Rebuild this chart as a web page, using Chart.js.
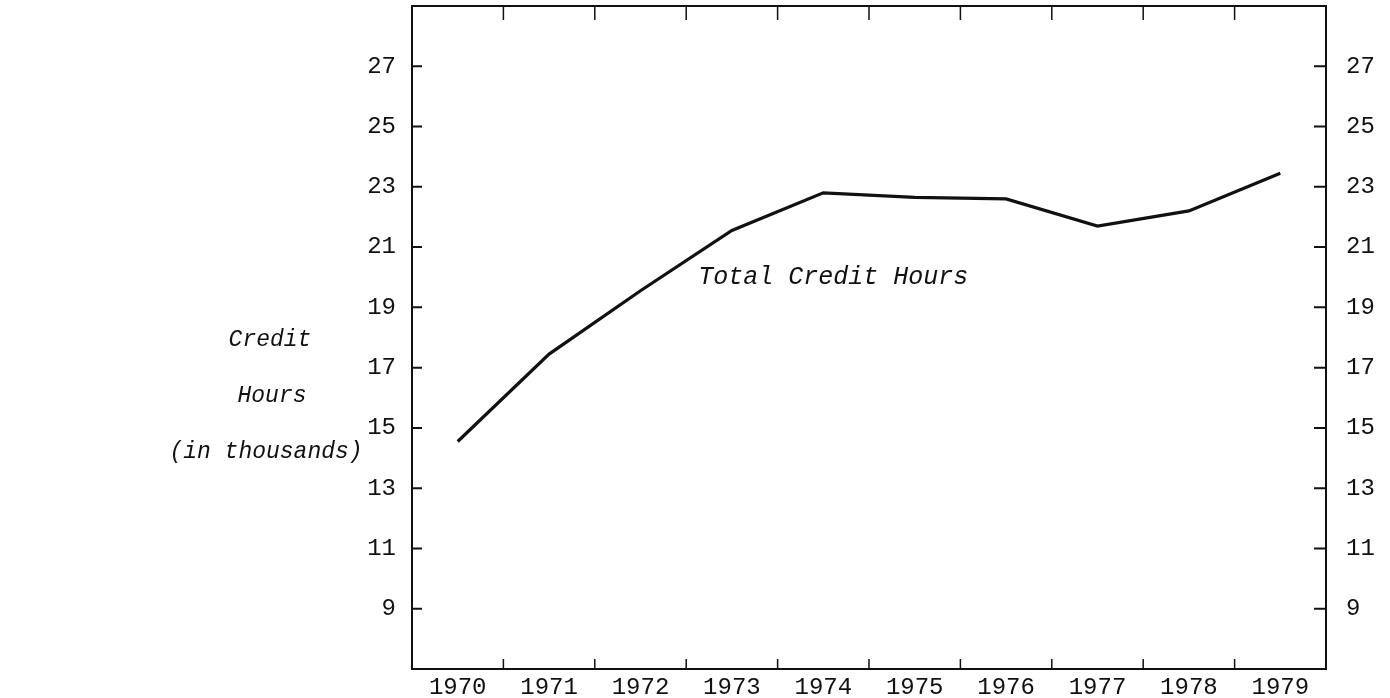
<!DOCTYPE html>
<html>
<head>
<meta charset="utf-8">
<script src="https://cdn.jsdelivr.net/npm/chart.js@4/dist/chart.umd.min.js"></script>
<style>
  html, body { margin: 0; padding: 0; background: #fff; overflow: hidden; }
  #wrap { width: 1390px; height: 698px; position: relative; }
</style>
</head>
<body>
<div id="wrap"><canvas id="chart"></canvas></div>
<script>
// Total credit hours per year (in thousands)
var years = ['1970', '1971', '1972', '1973', '1974', '1975', '1976', '1977', '1978', '1979'];
var creditHours = [14.55, 17.45, 19.55, 21.55, 22.8, 22.65, 22.6, 21.7, 22.2, 23.45];
var yTicks = [9, 11, 13, 15, 17, 19, 21, 23, 25, 27];
var sideLabel = ['Credit', 'Hours', '(in thousands)'];
var seriesLabel = 'Total Credit Hours';

var tickFont = { family: 'Liberation Mono', size: 24 };

// frame + short tick marks pointing into the plot, plus the free text
var framePlugin = {
    id: 'frame',
    afterDraw: function(chart) {
        var ctx = chart.ctx;
        var a = chart.chartArea;
        var x = chart.scales.x;
        var y = chart.scales.y;
        ctx.save();
        ctx.strokeStyle = '#111';
        ctx.lineWidth = 2;
        ctx.strokeRect(a.left, a.top, a.right - a.left, a.bottom - a.top);

        yTicks.forEach(function(v) {
            var py = y.getPixelForValue(v);
            ctx.beginPath();
            ctx.moveTo(a.left, py); ctx.lineTo(a.left + 10, py);
            ctx.moveTo(a.right - 12, py); ctx.lineTo(a.right, py);
            ctx.stroke();
        });

        ctx.lineWidth = 1.5;
        for (var i = 0; i < years.length - 1; i++) {
            var px = (x.getPixelForValue(i) + x.getPixelForValue(i + 1)) / 2;
            ctx.beginPath();
            ctx.moveTo(px, a.bottom); ctx.lineTo(px, a.bottom - 10);
            ctx.moveTo(px, a.top); ctx.lineTo(px, a.top + 14);
            ctx.stroke();
        }

        ctx.fillStyle = '#111';
        ctx.font = "italic 25px 'Liberation Mono'";
        ctx.textAlign = 'center';
        ctx.textBaseline = 'middle';
        ctx.fillText(seriesLabel, x.getPixelForValue(4) + 10, y.getPixelForValue(20));

        ctx.font = "italic 23px 'Liberation Mono'";
        ctx.fillText(sideLabel[0], 270, 340);
        ctx.fillText(sideLabel[1], 272, 396);
        ctx.fillText(sideLabel[2], 266, 452);
        ctx.restore();
    }
};

function fixedTicks(s) {
    s.ticks = yTicks.map(function(v) { return { value: v }; });
}

new Chart(document.getElementById('chart'), {
    type: 'line',
    data: {
        labels: years,
        datasets: [{
            label: seriesLabel,
            data: creditHours,
            borderColor: '#111',
            borderWidth: 3.2,
            pointRadius: 0,
            tension: 0,
            fill: false
        }]
    },
    options: {
        responsive: true,
        maintainAspectRatio: false,
        animation: false,
        layout: { padding: { top: 6, left: 0, right: 0, bottom: 0 } },
        plugins: {
            legend: { display: false },
            tooltip: { enabled: false }
        },
        scales: {
            x: {
                offset: true,
                grid: { display: false, drawTicks: false },
                border: { display: false },
                ticks: { color: '#111', font: tickFont, padding: 4, maxRotation: 0 },
                afterFit: function(s) { s.height = 29; s.paddingLeft = 0; s.paddingRight = 0; }
            },
            y: {
                min: 7,
                max: 29,
                grid: { display: false, drawTicks: false },
                border: { display: false },
                afterBuildTicks: fixedTicks,
                ticks: { color: '#111', font: tickFont, padding: 16 },
                afterFit: function(s) { s.width = 412; s.paddingTop = 0; s.paddingBottom = 0; }
            },
            y2: {
                position: 'right',
                min: 7,
                max: 29,
                grid: { display: false, drawTicks: false },
                border: { display: false },
                afterBuildTicks: fixedTicks,
                ticks: { color: '#111', font: tickFont, padding: 20 },
                afterFit: function(s) { s.width = 64; s.paddingTop = 0; s.paddingBottom = 0; }
            }
        }
    },
    plugins: [framePlugin]
});
</script>
</body>
</html>
